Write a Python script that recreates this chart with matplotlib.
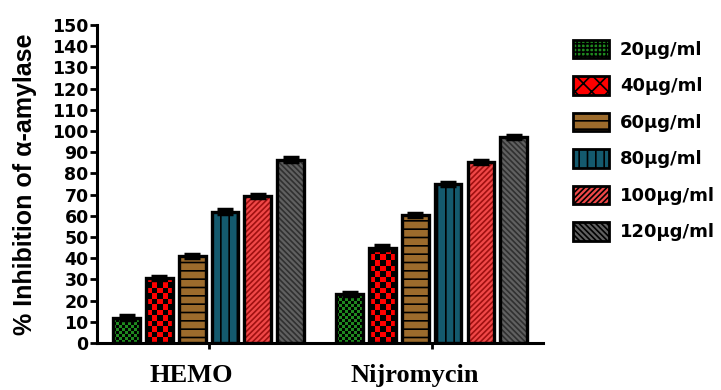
import numpy as np
import matplotlib
matplotlib.use("Agg")
from matplotlib import pyplot as plt
from matplotlib.patches import Patch
from matplotlib.colors import ListedColormap
from matplotlib.transforms import ScaledTranslation

groups = ['HEMO', 'Nijromycin']
doses = ['20µg/ml', '40µg/ml', '60µg/ml', '80µg/ml', '100µg/ml', '120µg/ml']
hemo = [12, 30.5, 41, 62, 69.5, 86.5]
nijro = [23, 45, 60.5, 75, 85.5, 97]
errs = [1, 1, 1, 1, 1, 1]

colors = ['#1f8a1f', '#ff0000', '#9c6b2c', '#145a6e', '#f04848', '#606060']
hatch_cols = ['black', 'black', 'black', 'black', '#a01010', '#303030']
hatches = [None, None, '--', '||', '//////', '\\\\\\\\\\\\']
checker_px = [3, 5.5, None, None, None, None]

sans = ['DejaVu Sans']
plt.rcParams['hatch.linewidth'] = 1.2

fig = plt.figure(figsize=(7.21, 3.9), dpi=100)
ax = fig.add_axes([0.1345, 0.1205, 0.619, 0.8155])
ax.set_xlim(-0.5, 1.5)
ax.set_ylim(0, 150)

# size of one pixel in data units
px_x = 2.0 / (0.619 * 721)
px_y = 150 / (0.8155 * 390)

x = np.arange(len(groups))
width = 0.12
pitch = 0.147
for i in range(len(doses)):
    vals = [hemo[i], nijro[i]]
    pos = x + (i - 2.5) * pitch
    bars = ax.bar(pos, vals, width, color=colors[i], hatch=hatches[i],
                  edgecolor=hatch_cols[i], linewidth=0, zorder=2)
    if checker_px[i]:
        cmap = ListedColormap(['black', colors[i]])
        for b in bars:
            x0, y0 = b.get_x(), b.get_y()
            w, h = b.get_width(), b.get_height()
            nx = int(np.ceil(w / (checker_px[i] * px_x)))
            ny = int(np.ceil(h / (checker_px[i] * px_y)))
            grid = (np.add.outer(np.arange(ny), np.arange(nx)) % 2)
            im = ax.imshow(grid, cmap=cmap, interpolation='nearest', aspect='auto',
                           origin='lower', zorder=2.5,
                           extent=[x0, x0 + nx * checker_px[i] * px_x,
                                   y0, y0 + ny * checker_px[i] * px_y])
            im.set_clip_path(b)
    ax.bar(pos, vals, width, fill=False, edgecolor='black', linewidth=2.4, zorder=3)
    ax.errorbar(pos, vals, yerr=[errs[i]] * 2, fmt='none', ecolor='black',
                elinewidth=2, capsize=6, capthick=2.5, zorder=4)

ax.set_xlim(-0.5, 1.5)
ax.set_ylim(0, 150)
ax.set_yticks(np.arange(0, 151, 10))
ax.set_xticks(x)
ax.set_xticklabels([])
# group names sit a bit left of their ticks, as in the original
shift = ax.get_xaxis_transform() + ScaledTranslation(-0.17, -0.21, fig.dpi_scale_trans)
for xi, name in zip(x, groups):
    ax.text(xi, 0, name, transform=shift, ha='center', va='top',
            fontfamily=['Liberation Serif', 'DejaVu Serif'], fontweight='bold',
            fontsize=19)
for lab in ax.get_yticklabels():
    lab.set_fontfamily(sans)
    lab.set_fontweight('bold')
    lab.set_fontsize(12.5)
ax.tick_params(axis='y', direction='out', length=5, width=2, pad=1)
ax.tick_params(axis='x', direction='out', length=4, width=2)
for s in ['top', 'right']:
    ax.spines[s].set_visible(False)
for s in ['left', 'bottom']:
    ax.spines[s].set_linewidth(2.2)

ax.set_ylabel('% Inhibition of α-amylase', fontfamily=['Liberation Sans', 'DejaVu Sans'],
              fontweight='bold', fontsize=18)
ax.yaxis.set_label_coords(-0.135, 0.5)

handles = [Patch(facecolor=colors[i], hatch=hatches[i] if hatches[i] else ('++++' if i == 0 else 'xx'),
                 edgecolor='black', linewidth=2) for i in range(len(doses))]
leg = fig.legend(handles, doses, loc='upper left', bbox_to_anchor=(0.772, 0.94),
                 frameon=False, handlelength=2.0, handleheight=1.2,
                 labelspacing=0.95, handletextpad=0.6,
                 prop={'family': sans, 'weight': 'bold', 'size': 13})

fig.savefig('out.png', dpi=100)
